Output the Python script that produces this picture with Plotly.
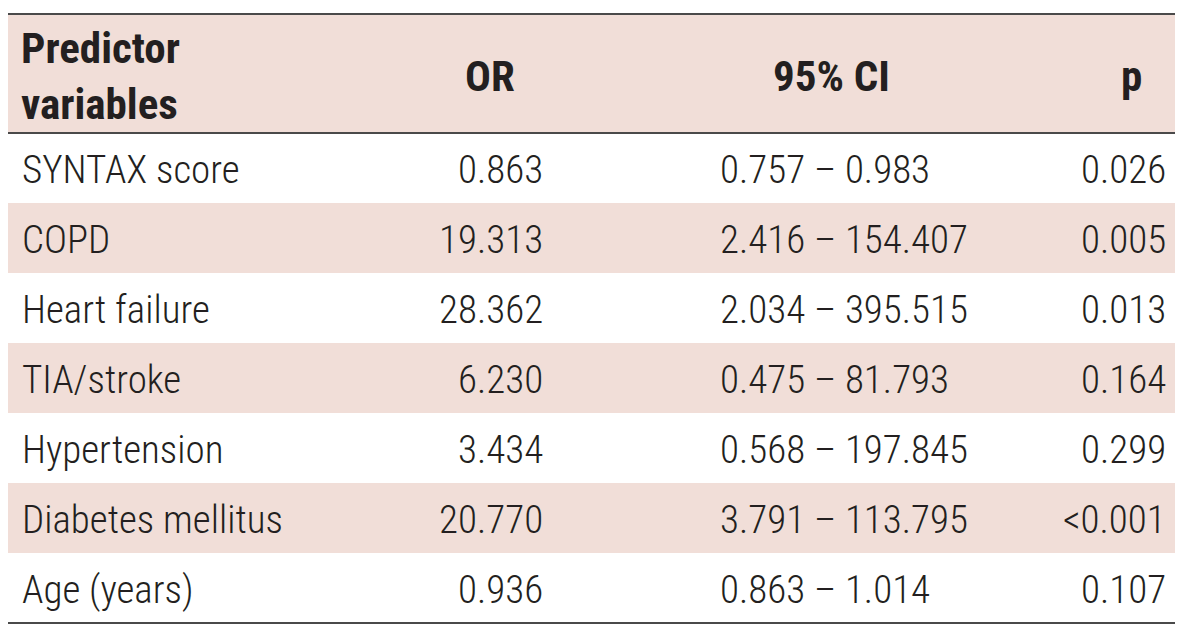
import plotly.graph_objects as go

# ---- data ----
predictors = ["SYNTAX score", "COPD", "Heart failure", "TIA/stroke",
              "Hypertension", "Diabetes mellitus", "Age (years)"]
odds_ratio = ["0.863", "19.313", "28.362", "6.230", "3.434", "20.770", "0.936"]
ci_low = ["0.757", "2.416", "2.034", "0.475", "0.568", "3.791", "0.863"]
ci_high = ["0.983", "154.407", "395.515", "81.793", "197.845", "113.795", "1.014"]
p_values = ["0.026", "0.005", "0.013", "0.164", "0.299", "<0.001", "0.107"]
headers = ["Predictor<br>variables", "OR", "95% CI", "p"]

# ---- styling / layout ----
W, H = 1200, 630
PINK = "#F1DED8"
INK = "#231F20"
LINE = "#4a4a4a"
FONT = "Roboto Condensed, DejaVu Sans Condensed, sans-serif"
FS = 39
FS_HEAD = 43

x_left, x_right = 8, 1175
top_line, header_bottom = 14, 133
row_h = 70

fig = go.Figure()
fig.update_xaxes(range=[0, W], visible=False, fixedrange=True)
fig.update_yaxes(range=[H, 0], visible=False, fixedrange=True)

shapes = []
shapes.append(dict(type="rect", xref="x", yref="y", x0=x_left, x1=x_right,
                   y0=top_line, y1=header_bottom, fillcolor=PINK, line_width=0, layer="below"))
for i in range(len(predictors)):
    y0 = header_bottom + i * row_h
    if i % 2 == 1:
        shapes.append(dict(type="rect", xref="x", yref="y", x0=x_left, x1=x_right,
                           y0=y0, y1=y0 + row_h, fillcolor=PINK, line_width=0, layer="below"))
bottom = header_bottom + len(predictors) * row_h
for yl in [top_line, header_bottom, bottom]:
    shapes.append(dict(type="line", xref="x", yref="y", x0=x_left, x1=x_right,
                       y0=yl, y1=yl, line=dict(color=LINE, width=2)))
fig.update_layout(shapes=shapes)

def ann(x, y, text, xanchor, bold=False):
    fig.add_annotation(x=x, y=y, xref="x", yref="y", text=text,
                       showarrow=False, xanchor=xanchor, yanchor="middle",
                       font=dict(family=FONT, size=FS_HEAD if bold else FS, color=INK,
                                 weight=700 if bold else 300),
                       align="left")

hy = (top_line + header_bottom) / 2 + 2
ann(19, hy, headers[0], "left", bold=True)
ann(490, hy, headers[1], "center", bold=True)
ann(831, hy, headers[2], "center", bold=True)
ann(1131, hy, headers[3], "center", bold=True)

for i, name in enumerate(predictors):
    yc = header_bottom + i * row_h + row_h / 2 + 2
    ann(20, yc, name, "left")
    ann(545, yc, odds_ratio[i], "right")
    ann(718, yc, f"{ci_low[i]} \u2013 {ci_high[i]}", "left")
    ann(1168, yc, p_values[i], "right")

fig.update_layout(width=W, height=H, margin=dict(l=0, r=0, t=0, b=0),
                  paper_bgcolor="white", plot_bgcolor="white", showlegend=False)
fig.write_html("out.html", config={"displayModeBar": False},
               post_script="document.body.style.margin='0';")
